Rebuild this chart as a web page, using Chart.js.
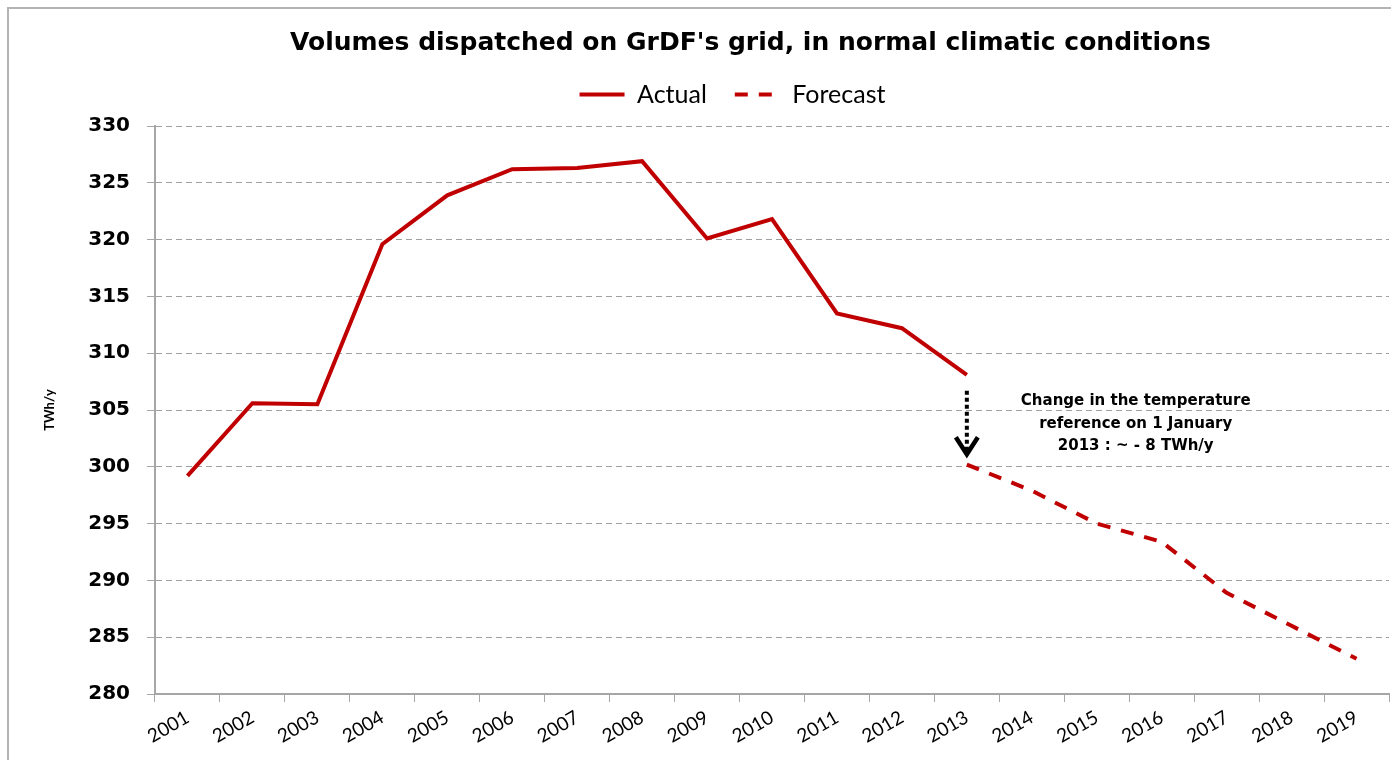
<!DOCTYPE html>
<html>
<head>
<meta charset="utf-8">
<title>GrDF volumes</title>
<script src="https://cdn.jsdelivr.net/npm/chart.js@4.4.1/dist/chart.umd.min.js"></script>
<style>
  html, body { margin: 0; padding: 0; background: #fff; }
</style>
</head>
<body>
<canvas id="myChart" width="1391" height="760"></canvas>
<script>
// data
const years = ['2001', '2002', '2003', '2004', '2005', '2006', '2007', '2008', '2009', '2010',
               '2011', '2012', '2013', '2014', '2015', '2016', '2017', '2018', '2019'];
const actual = [299.2, 305.6, 305.5, 319.6, 323.9, 326.2, 326.3, 326.9, 320.1, 321.8,
                313.5, 312.2, 308.1, null, null, null, null, null, null];
const forecast = [null, null, null, null, null, null, null, null, null, null,
                  null, null, 300.2, 297.9, 295.0, 293.4, 288.9, 286.0, 283.1];
const yMin = 280, yMax = 330, yStep = 5;
const noteLines = ['Change in the temperature', 'reference on 1 January', '2013 : ~ - 8 TWh/y'];

const red = '#C00000';

// title, legend shift + border, arrow and note
const extras = {
  id: 'extras',
  afterLayout(chart) {
    chart.titleBlock.left += 37;
    chart.titleBlock.right += 37;
    chart.titleBlock.top += 3;
    chart.legend.left += 19;
    chart.legend.right += 19;
    chart.legend.top -= 9;
    chart.legend.bottom -= 9;
  },
  beforeDraw(chart) {
    const ctx = chart.ctx;
    ctx.save();
    ctx.fillStyle = '#fff';
    ctx.fillRect(0, 0, chart.width, chart.height);
    ctx.strokeStyle = '#b4b4b4';
    ctx.lineWidth = 2;
    ctx.strokeRect(8, 8, chart.width + 20, chart.height + 20);
    ctx.restore();
  },
  afterDatasetsDraw(chart) {
    const ctx = chart.ctx;
    const x = chart.scales.x, y = chart.scales.y;
    const ax = x.getPixelForValue(12);
    const top = y.getPixelForValue(306.7);
    const tip = y.getPixelForValue(301.1);
    ctx.save();
    // dotted shaft
    ctx.strokeStyle = '#000';
    ctx.lineWidth = 4;
    ctx.setLineDash([4, 3]);
    ctx.beginPath();
    ctx.moveTo(ax, top);
    ctx.lineTo(ax, tip - 4);
    ctx.stroke();
    // chevron head
    ctx.setLineDash([]);
    ctx.lineWidth = 4.5;
    ctx.beginPath();
    ctx.moveTo(ax - 11, tip - 17);
    ctx.lineTo(ax, tip);
    ctx.lineTo(ax + 11, tip - 17);
    ctx.stroke();
    // note text
    ctx.fillStyle = '#000';
    ctx.font = 'bold 15px "DejaVu Sans"';
    ctx.textAlign = 'center';
    ctx.textBaseline = 'middle';
    const tx = x.getPixelForValue(14.6);
    noteLines.forEach((t, i) => {
      ctx.fillText(t, tx, y.getPixelForValue(305.8 - i * 2.0));
    });
    ctx.restore();
  }
};

const ctx = document.getElementById('myChart').getContext('2d');
const grdfChart = new Chart(ctx, {
  type: 'line',
  data: {
    labels: years,
    datasets: [{
      label: 'Actual',
      data: actual,
      borderColor: red,
      backgroundColor: red,
      borderWidth: 4,
      pointRadius: 0,
      tension: 0
    }, {
      label: 'Forecast',
      data: forecast,
      borderColor: red,
      backgroundColor: red,
      borderWidth: 4,
      borderDash: [13, 11],
      pointRadius: 0,
      tension: 0
    }]
  },
  options: {
    responsive: false,
    animation: false,
    layout: { padding: { top: 5, left: 38, right: 2, bottom: 0 } },
    plugins: {
      title: {
        display: true,
        text: "Volumes dispatched on GrDF's grid, in normal climatic conditions",
        color: '#000',
        font: { family: '"DejaVu Sans"', size: 25, weight: 'bold' },
        padding: { top: 20, bottom: 8 }
      },
      legend: {
        display: true,
        position: 'top',
        labels: {
          usePointStyle: true,
          pointStyle: 'line',
          pointStyleWidth: 45,
          color: '#000',
          font: { family: 'Lato', size: 25 },
          padding: 28,
          // keep the dash of each dataset in its legend line
          generateLabels: (chart) => {
            const items = Chart.defaults.plugins.legend.labels.generateLabels(chart);
            items.forEach(item => {
              item.lineDash = chart.data.datasets[item.datasetIndex].borderDash || [];
              item.lineWidth = 4;
            });
            return items;
          }
        }
      },
      tooltip: { enabled: false }
    },
    scales: {
      x: {
        offset: true,
        afterFit: (scale) => { scale.height = 66; },
        grid: {
          display: true,
          offset: true,
          drawOnChartArea: false,
          drawTicks: true,
          tickLength: 8,
          color: '#a6a6a6'
        },
        border: { color: '#a6a6a6', width: 2 },
        ticks: {
          color: '#000',
          font: { family: 'Lato', size: 19 },
          minRotation: 30,
          maxRotation: 30,
          padding: 4,
          autoSkip: false
        }
      },
      y: {
        min: yMin,
        max: yMax,
        afterFit: (scale) => { scale.width = 117; },
        title: {
          display: true,
          text: 'TWh/y',
          color: '#000',
          font: { family: 'Lato', size: 13, weight: 'bold' }
        },
        grid: {
          color: '#a0a0a0',
          tickColor: '#a6a6a6',
          tickLength: 8,
          lineWidth: 1
        },
        border: { color: '#a6a6a6', width: 2, dash: [6, 4] },
        ticks: {
          stepSize: yStep,
          color: '#000',
          padding: 17,
          font: { family: '"DejaVu Sans"', size: 20, weight: 'bold' }
        }
      }
    }
  },
  plugins: [extras]
});
</script>
</body>
</html>
